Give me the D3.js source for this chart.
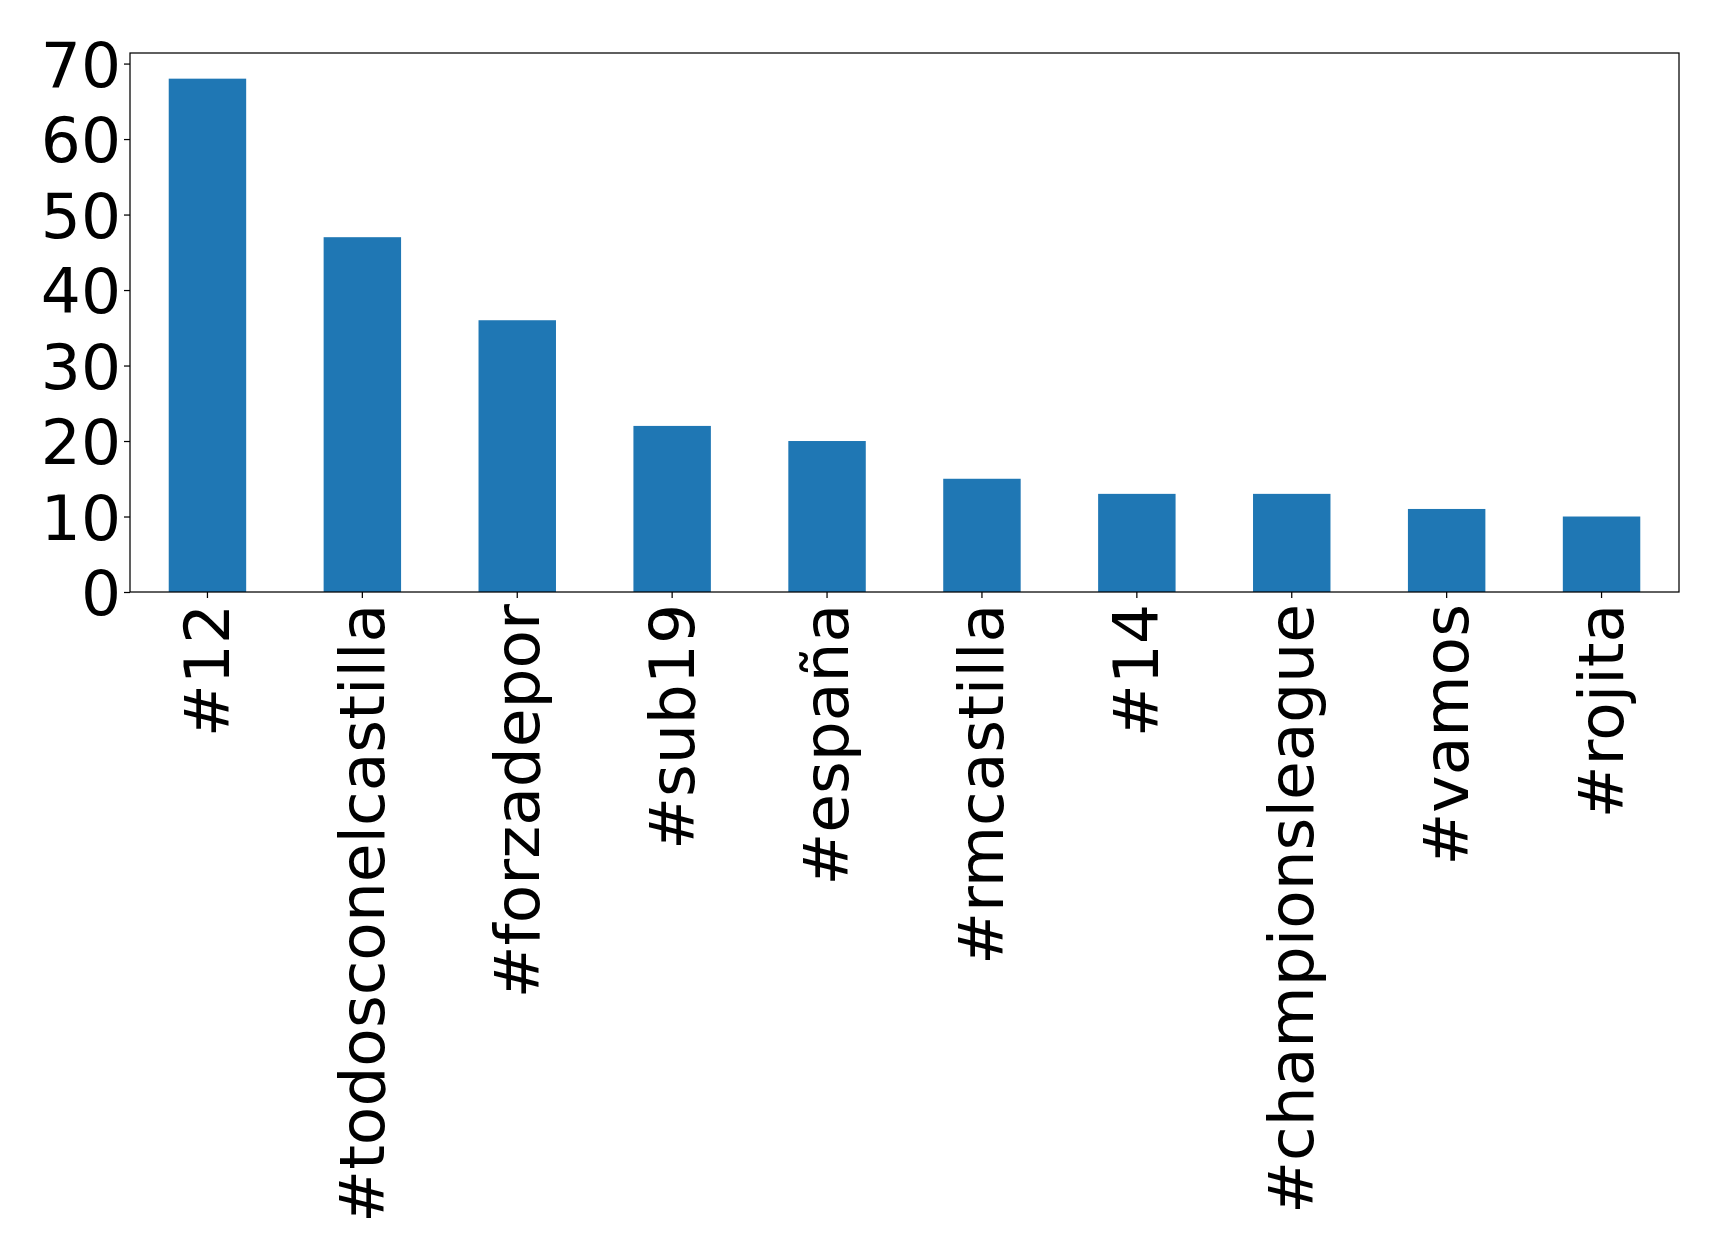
<!DOCTYPE html>
<html>
<head>
<meta charset="utf-8">
<script src="https://cdn.jsdelivr.net/npm/d3@7"></script>
<style>
  html, body { margin: 0; padding: 0; background: #fff; }
  svg { display: block; }
  text { font-family: "DejaVu Sans", sans-serif; fill: #000; }
</style>
</head>
<body>
<svg id="chart" width="1719" height="1255"></svg>
<script>
const categories = ["#12", "#todosconelcastilla", "#forzadepor", "#sub19", "#españa", "#rmcastilla", "#14", "#championsleague", "#vamos", "#rojita"];
const values = [68, 47, 36, 22, 20, 15, 13, 13, 11, 10];
const yTicks = [0, 10, 20, 30, 40, 50, 60, 70];

(function () {
const svg = d3.select("#chart");
const mLeft = 130, mRight = 1679, mTop = 53, mBottom = 592;
const fontSize = 63;

const x = d3.scaleBand().domain(categories).range([mLeft, mRight]).paddingInner(0.5).paddingOuter(0.25);
const y = d3.scaleLinear().domain([0, d3.max(values) * 1.05]).range([mBottom, mTop]);

// bars
svg.append("g").selectAll("rect").data(categories).join("rect")
  .attr("x", d => x(d))
  .attr("width", x.bandwidth())
  .attr("y", (d, i) => y(values[i]))
  .attr("height", (d, i) => y(0) - y(values[i]))
  .attr("fill", "#1f77b4");

// y axis
const yAxis = d3.axisLeft(y).tickValues(yTicks).tickSize(6).tickPadding(3).tickFormat(d3.format("d"));
const gy = svg.append("g").attr("transform", `translate(${mLeft},0)`).call(yAxis);
gy.select(".domain").remove();
gy.selectAll(".tick line").attr("stroke", "#000").attr("stroke-width", 1.25);
gy.selectAll(".tick text")
  .attr("font-size", fontSize)
  .attr("font-family", "DejaVu Sans")
  .attr("fill", "#000")
  .attr("dy", "0.36em");

// x axis
const xAxis = d3.axisBottom(x).tickSize(6).tickPadding(0);
const gx = svg.append("g").attr("transform", `translate(0,${mBottom})`).call(xAxis);
gx.select(".domain").remove();
gx.selectAll(".tick line").attr("stroke", "#000").attr("stroke-width", 1.25);
gx.selectAll(".tick text")
  .attr("font-size", fontSize)
  .attr("font-family", "DejaVu Sans")
  .attr("fill", "#000")
  .attr("text-anchor", "end")
  .attr("transform", "translate(0,12) rotate(-90)")
  .attr("y", 0)
  .attr("x", 0)
  .attr("dy", "0.34em");

// frame
svg.append("rect")
  .attr("x", mLeft).attr("y", mTop)
  .attr("width", mRight - mLeft).attr("height", mBottom - mTop)
  .attr("fill", "none").attr("stroke", "#000").attr("stroke-width", 1.25);
})();
</script>
</body>
</html>
